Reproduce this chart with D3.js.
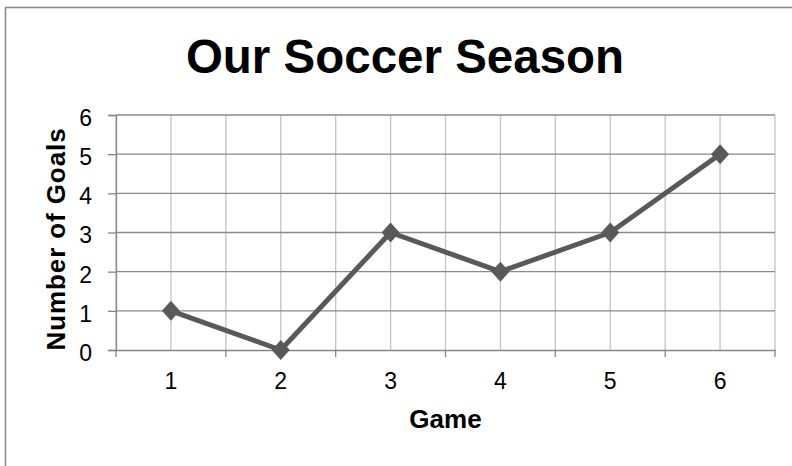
<!DOCTYPE html>
<html>
<head>
<meta charset="utf-8">
<script src="https://cdn.jsdelivr.net/npm/d3@7"></script>
<style>
  html, body { margin: 0; padding: 0; background: #fff; }
  svg { display: block; }
</style>
</head>
<body>
<svg id="chart" width="792" height="466"></svg>
<script>
const title = "Our Soccer Season";
const games = ["1", "2", "3", "4", "5", "6"];
const goals = [1, 0, 3, 2, 3, 5];
const yTicks = [0, 1, 2, 3, 4, 5, 6];
const xTitle = "Game";
const yTitle = "Number of Goals";

const svg = d3.select("#chart");
const m = { left: 116, right: 775, top: 115, bottom: 350 };
const FONT = "'Liberation Sans', Arial, sans-serif";

// outer chart border
svg.append("rect")
  .attr("x", 5.5).attr("y", 7.5)
  .attr("width", 800).attr("height", 500)
  .attr("fill", "#fff").attr("stroke", "#878787").attr("stroke-width", 1.5);

const x = d3.scaleBand().domain(games).range([m.left, m.right]).padding(0);
const y = d3.scaleLinear().domain([0, 6]).range([m.bottom, m.top]);

const grid = svg.append("g");
grid.selectAll("line.vc").data(games).join("line")
  .attr("class", "vc")
  .attr("x1", d => x(d) + x.bandwidth() / 2).attr("x2", d => x(d) + x.bandwidth() / 2)
  .attr("y1", m.top).attr("y2", m.bottom)
  .attr("stroke", "#c4c4c4").attr("stroke-width", 1.3);
const bounds = games.map(d => x(d)).concat([x(games[games.length - 1]) + x.bandwidth()]);
grid.selectAll("line.vb").data(bounds).join("line")
  .attr("class", "vb")
  .attr("x1", d => d).attr("x2", d => d)
  .attr("y1", m.top).attr("y2", m.bottom)
  .attr("stroke", "#c4c4c4").attr("stroke-width", 1.3);
grid.selectAll("line.h").data(yTicks.filter(v => v > 0)).join("line")
  .attr("class", "h")
  .attr("x1", m.left).attr("x2", m.right)
  .attr("y1", d => y(d)).attr("y2", d => y(d))
  .attr("stroke", "#8a8a8a").attr("stroke-width", 1.3);

// y axis
const yAxis = svg.append("g")
  .attr("transform", `translate(${m.left},0)`)
  .call(d3.axisLeft(y).tickValues(yTicks).tickSize(8).tickPadding(16).tickFormat(d3.format("d")));
yAxis.attr("font-size", null).attr("font-family", null);
yAxis.select(".domain").attr("stroke", "#868686").attr("stroke-width", 1.3);
yAxis.selectAll(".tick line").attr("stroke", "#868686").attr("stroke-width", 1.3);
yAxis.selectAll(".tick text")
  .style("font-family", FONT)
  .style("font-size", "23px").attr("fill", "#000").attr("dy", "0.45em");

// x axis
const xAxis = svg.append("g")
  .attr("transform", `translate(0,${m.bottom})`)
  .call(d3.axisBottom(x).tickSize(0).tickPadding(0));
xAxis.attr("font-size", null).attr("font-family", null);
xAxis.select(".domain").attr("stroke", "#868686").attr("stroke-width", 1.3);
xAxis.selectAll(".tick text")
  .style("font-family", FONT)
  .style("font-size", "23px").attr("fill", "#000")
  .attr("dy", 0).attr("y", 39);
svg.append("g").selectAll("line").data(bounds).join("line")
  .attr("x1", d => d).attr("x2", d => d)
  .attr("y1", m.bottom).attr("y2", m.bottom + 7)
  .attr("stroke", "#868686").attr("stroke-width", 1.3);

// line
const line = d3.line()
  .x((d, i) => x(games[i]) + x.bandwidth() / 2)
  .y(d => y(d));
svg.append("path")
  .datum(goals)
  .attr("d", line)
  .attr("fill", "none")
  .attr("stroke", "#595959")
  .attr("stroke-width", 5)
  .attr("stroke-linejoin", "round");

// diamond markers
svg.append("g").selectAll("path").data(goals).join("path")
  .attr("transform", (d, i) => `translate(${x(games[i]) + x.bandwidth() / 2},${y(d)})`)
  .attr("d", "M0,-10L9,0L0,10L-9,0Z")
  .attr("fill", "#595959");

// title
svg.append("text")
  .attr("x", 405).attr("y", 73)
  .attr("text-anchor", "middle")
  .style("font-family", FONT)
  .style("font-weight", "bold").style("font-size", "47.5px")
  .attr("fill", "#000")
  .text(title);

// axis titles
svg.append("text")
  .attr("x", (m.left + m.right) / 2).attr("y", 428)
  .attr("text-anchor", "middle")
  .style("font-family", FONT)
  .style("font-weight", "bold").style("font-size", "26px")
  .attr("fill", "#000")
  .text(xTitle);

svg.append("text")
  .attr("transform", "translate(65,239) rotate(-90)")
  .attr("text-anchor", "middle")
  .style("font-family", FONT)
  .style("font-weight", "bold").style("font-size", "26px")
  .style("letter-spacing", "0.9px")
  .attr("fill", "#000")
  .text(yTitle);
</script>
</body>
</html>
